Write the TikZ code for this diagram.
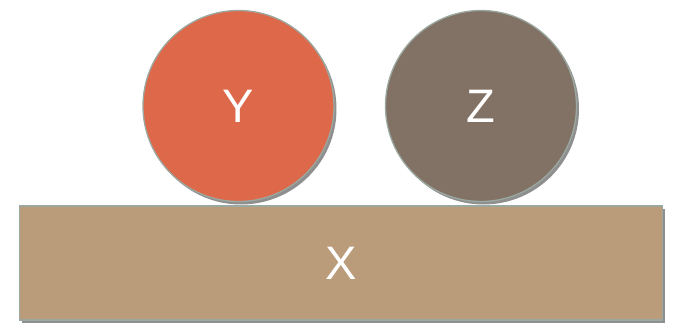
\documentclass[tikz,border=0pt]{standalone}
\usepackage{fontspec}
\setmainfont{Liberation Sans}
\usetikzlibrary{shadows, positioning}

\definecolor{ycolor}{HTML}{DD694A}
\definecolor{zcolor}{HTML}{827266}
\definecolor{xcolor}{HTML}{BA9C7A}
\definecolor{edgegray}{HTML}{9AA89F}

\begin{document}
\begin{tikzpicture}[
      x=1pt, y=-1pt,
      shade/.style={drop shadow={shadow xshift=2.5pt, shadow yshift=-3pt, opacity=0.55, fill=black!80}},
      ball/.style={circle, draw=edgegray, line width=1.3pt, minimum size=191pt, inner sep=0pt, text=white, font=\fontsize{47}{47}\selectfont, shade},
      base/.style={rectangle, draw=edgegray, line width=1.3pt, minimum width=643pt, minimum height=114pt, inner sep=0pt, fill=xcolor, text=white, font=\fontsize{47}{47}\selectfont, shade}
    ]
    \useasboundingbox (0,0) rectangle (673,324);

    \node[base] (x) at (341,263) {\raisebox{-2pt}{X}};
    \node[ball, fill=ycolor] (y) at (238.5,106) {\raisebox{-2pt}{Y}};
    \node[ball, fill=zcolor] (z) at (481,106) {\raisebox{-2pt}{Z}};
  \end{tikzpicture}
\end{document}
